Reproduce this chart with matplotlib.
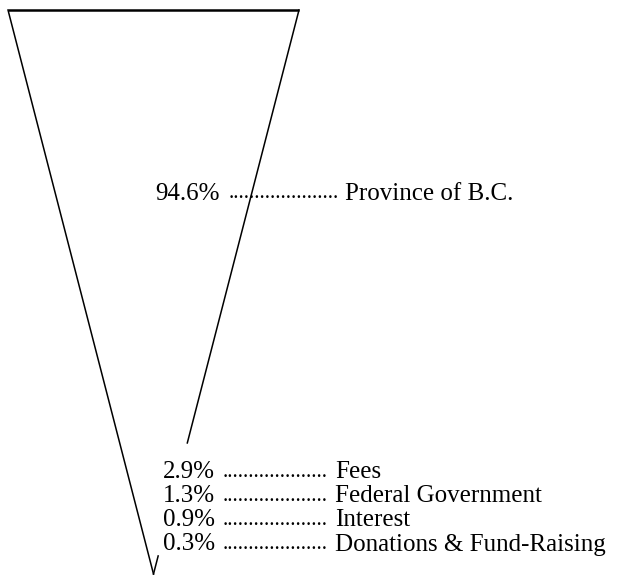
import numpy as np
import matplotlib.pyplot as plt

# Revenue sources (share of total, %)
shares = [94.6, 2.9, 1.3, 0.9, 0.3]
labels = ['Province of B.C.', 'Fees', 'Federal Government', 'Interest',
          'Donations & Fund-Raising']
pct_text = ['94.6%', '2.9%', '1.3%', '0.9%', '0.3%']

plt.rcParams['font.family'] = ['Liberation Serif', 'DejaVu Serif']

fig = plt.figure(figsize=(6.18, 5.77), dpi=100)
ax = fig.add_axes([0, 0, 1, 1])
ax.set_xlim(0, 618)
ax.set_ylim(577, 0)
ax.axis('off')

# funnel geometry (pixels)
top_y, apex_y = 10, 574
cx, half_w = 153.5, 145.5
height = apex_y - top_y

def edge_point(frac, side):
    # frac = height fraction measured up from the apex
    return cx + side * half_w * frac, apex_y - height * frac

# area of a triangle grows with height^2, so the first segment ends where
# the remaining area equals the other shares
rest = (100 - shares[0]) / 100
cut = np.sqrt(rest)

lw = 1.1
xl, yl = edge_point(1, -1)
xr, yr = edge_point(1, 1)
ax.plot([xl, xr], [yl, yr], color='black', lw=1.8, solid_capstyle='butt')
ax.plot([xl, cx], [yl, apex_y], color='black', lw=lw)
xc, yc = edge_point(cut, 1)
ax.plot([xr, xc], [yr, yc], color='black', lw=lw)
xt, yt = edge_point(0.032, 1)
ax.plot([cx, xt], [apex_y, yt], color='black', lw=lw)

fs = 18
dot_fs = 15.5

# main label
ax.text(155, 191, pct_text[0], fontsize=fs, ha='left', va='center_baseline')
ax.text(229, 191, '.' * 21, fontsize=dot_fs, ha='left', va='center_baseline')
ax.text(345, 191, labels[0], fontsize=fs, ha='left', va='center_baseline')

# small shares listed at the bottom
row_y = [470, 494, 518, 542]
for y, p, lab in zip(row_y, pct_text[1:], labels[1:]):
    ax.text(163, y, p, fontsize=fs, ha='left', va='center_baseline')
    ax.text(223, y, '.' * 20, fontsize=dot_fs, ha='left', va='center_baseline')
    ax.text(335, y, lab, fontsize=fs, ha='left', va='center_baseline')

fig.savefig('out.png', dpi=100)
